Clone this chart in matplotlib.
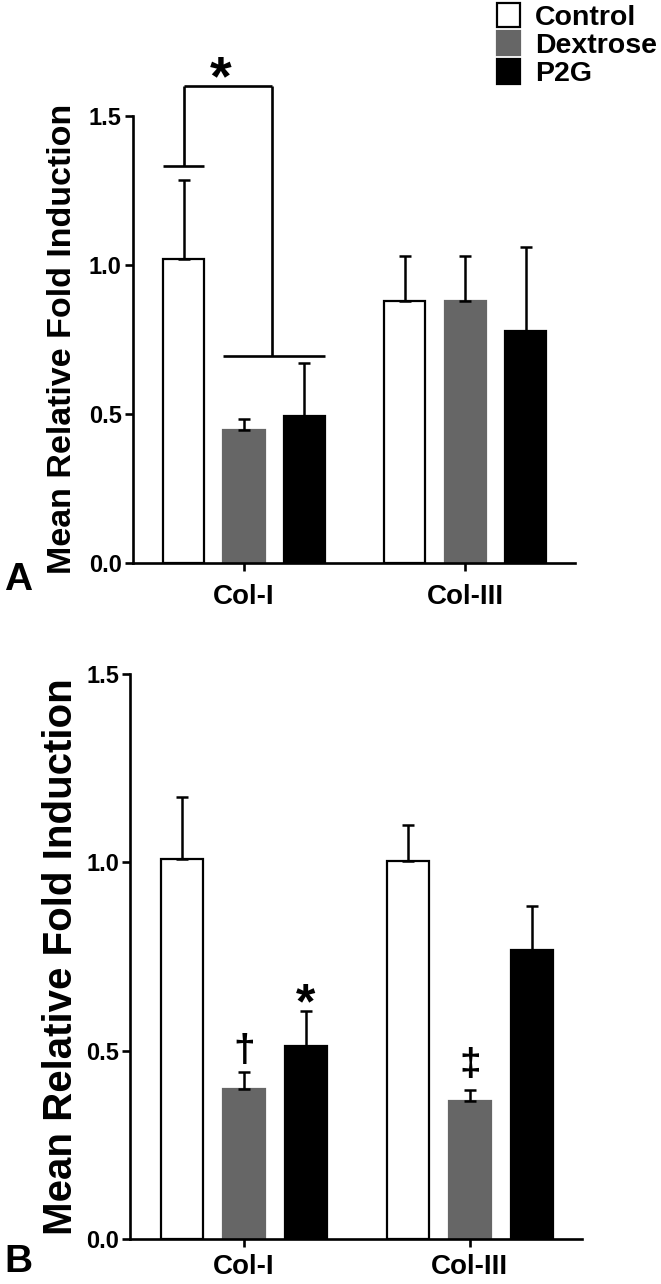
import matplotlib
matplotlib.use("Agg")
import matplotlib.pyplot as plt
from matplotlib.patches import Patch
import numpy as np

plt.rcParams["font.family"] = ["Liberation Sans", "DejaVu Sans"]
plt.rcParams["font.weight"] = "bold"

groups = ["Col-I", "Col-III"]
series = ["Control", "Dextrose", "P2G"]
bar_colors = ["white", "#666666", "black"]
edge_colors = ["black", "#666666", "black"]

# panel A: means and upper SEM
a_control = [1.02, 0.88]
a_control_err = [0.265, 0.15]
a_dextrose = [0.447, 0.878]
a_dextrose_err = [0.035, 0.151]
a_p2g = [0.492, 0.779]
a_p2g_err = [0.177, 0.281]

# panel B
b_control = [1.009, 1.003]
b_control_err = [0.163, 0.095]
b_dextrose = [0.399, 0.366]
b_dextrose_err = [0.043, 0.029]
b_p2g = [0.513, 0.766]
b_p2g_err = [0.091, 0.118]

# significance bracket in A (y levels) and symbols in B
bracket_levels = [1.33, 1.60, 0.693]
b_marks = ["\u2020", "*", "\u2021"]
b_mark_y = [0.45, 0.56, 0.415]

centers = np.array([0.0, 3.66])
width = 0.68


def draw_panel(ax, means, errs, label_size, xpad):
    for i, (m, e) in enumerate(zip(means, errs)):
        x = centers + (i - 1)
        ax.bar(x, m, width=width, color=bar_colors[i], edgecolor=edge_colors[i],
               linewidth=1.6, zorder=2)
        ax.errorbar(x, m, yerr=[np.zeros(len(e)), e], fmt="none", ecolor="black",
                    elinewidth=1.8, capsize=4, capthick=1.8, zorder=3)
    ax.set_xlim(-1.84, 5.48)
    ax.set_ylim(0, 1.5)
    ax.set_yticks([0.0, 0.5, 1.0, 1.5])
    ax.set_yticklabels(["0.0", "0.5", "1.0", "1.5"], fontsize=17, fontweight="bold")
    ax.set_xticks(centers)
    ax.set_xticklabels(groups, fontsize=20, fontweight="bold")
    ax.spines["top"].set_visible(False)
    ax.spines["right"].set_visible(False)
    ax.spines["left"].set_linewidth(1.9)
    ax.spines["bottom"].set_linewidth(1.9)
    ax.tick_params(axis="y", length=6, width=1.9, pad=2)
    ax.tick_params(axis="x", length=6, width=1.9, pad=xpad)
    ax.set_ylabel("Mean Relative Fold Induction", fontsize=label_size, fontweight="bold")


fig = plt.figure(figsize=(6.61, 12.84), dpi=100)
ax1 = fig.add_axes([0.201, 0.5615, 0.669, 0.3485])
ax2 = fig.add_axes([0.197, 0.035, 0.684, 0.4404])

draw_panel(ax1, [a_control, a_dextrose, a_p2g],
           [a_control_err, a_dextrose_err, a_p2g_err], 24.5, 9)
draw_panel(ax2, [b_control, b_dextrose, b_p2g],
           [b_control_err, b_dextrose_err, b_p2g_err], 29, 5)
ax1.yaxis.set_label_coords(-0.125, 0.5)
ax2.yaxis.set_label_coords(-0.11, 0.5)

# bracket over Col-I in A
lo, hi, low2 = bracket_levels
xl = centers[0] - 1
xr = centers[0] + 0.46
kw = dict(color="black", lw=1.9, clip_on=False, solid_capstyle="butt")
ax1.plot([xl - 0.34, xl + 0.34], [lo, lo], **kw)
ax1.plot([xl, xl], [lo, hi], **kw)
ax1.plot([xr, xr], [hi, low2], **kw)
ax1.plot([xl, xr], [hi, hi], **kw)
ax1.plot([centers[0] - 0.34, centers[0] + 1.34], [low2, low2], **kw)
ax1.text(-0.39, 1.53, "*", fontsize=40, fontweight="bold", ha="center",
         va="bottom", clip_on=False)

# symbols in B
mark_x = [centers[0], centers[0] + 1, centers[1]]
for x, y, s in zip(mark_x, b_mark_y, b_marks):
    ax2.text(x, y, s, fontsize=36 if s == "*" else 28, fontweight="bold",
             ha="center", va="bottom")

handles = [Patch(facecolor=c, edgecolor=e, linewidth=1.6)
           for c, e in zip(bar_colors, edge_colors)]
fig.legend(handles, series, loc="upper left", bbox_to_anchor=(494 / 661, 1.0),
           frameon=False, fontsize=20.5, handlelength=0.8, handleheight=0.95,
           handletextpad=0.55, labelspacing=0.0, borderpad=0.0, borderaxespad=0.1)

fig.text(4 / 661, 1 - 590 / 1284, "A", fontsize=28, fontweight="bold")
fig.text(4 / 661, 1 - 1272 / 1284, "B", fontsize=28, fontweight="bold")

fig.savefig("out.png", dpi=100)
